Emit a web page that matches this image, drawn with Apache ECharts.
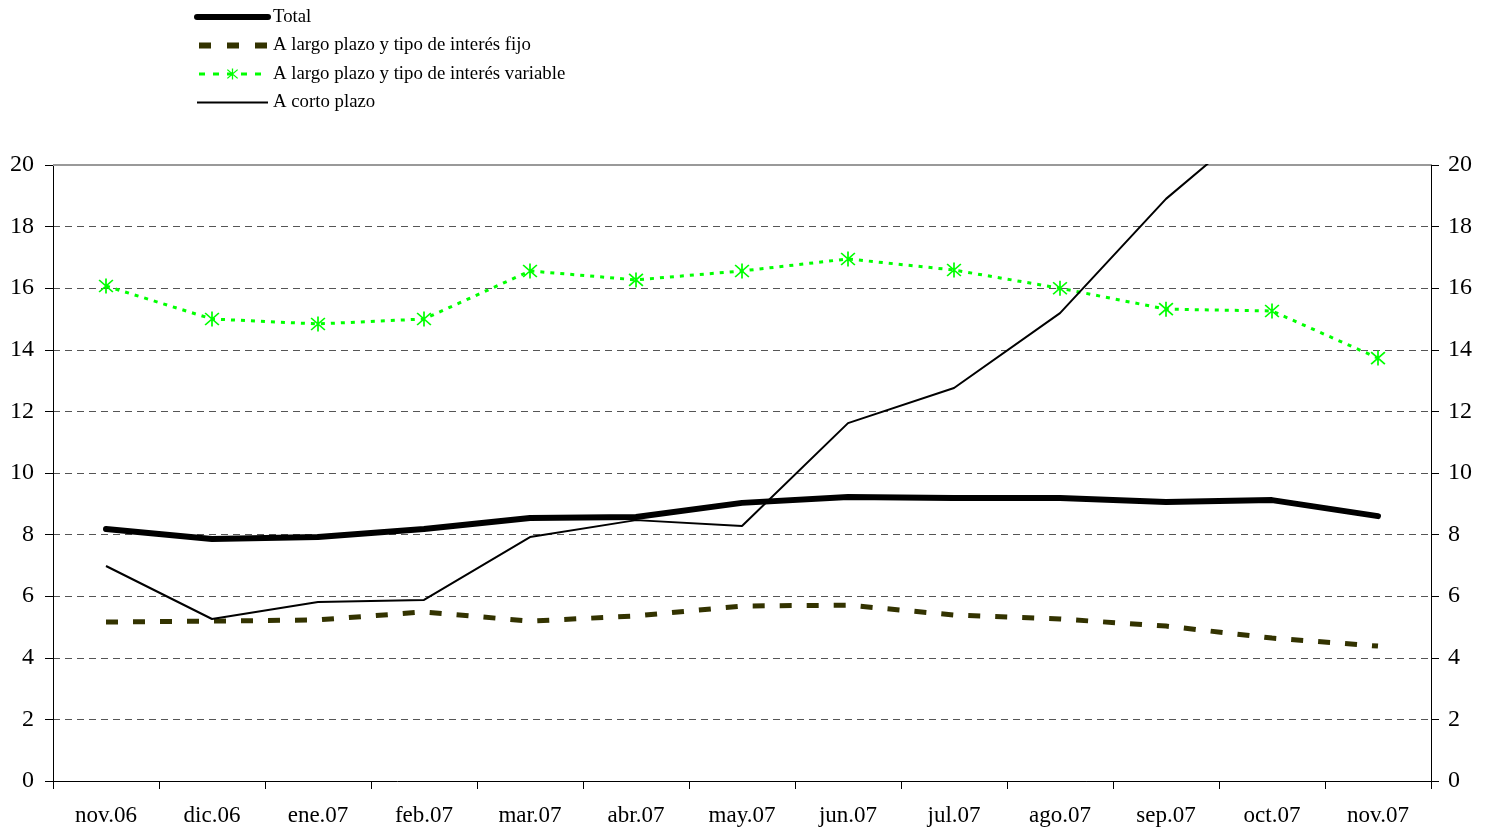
<!DOCTYPE html>
<html><head><meta charset="utf-8">
<script src="https://cdn.jsdelivr.net/npm/echarts@6/dist/echarts.min.js"></script>
<style>html,body{margin:0;padding:0;background:#fff}#c{width:1488px;height:834px}</style>
</head><body><div id="c"></div>
<script>
const categories = ['nov.06','dic.06','ene.07','feb.07','mar.07','abr.07','may.07','jun.07','jul.07','ago.07','sep.07','oct.07','nov.07'];
const total    = [8.18, 7.86, 7.92, 8.18, 8.54, 8.57, 9.03, 9.22, 9.19, 9.19, 9.06, 9.12, 8.60];
const fijo     = [5.16, 5.19, 5.23, 5.49, 5.19, 5.36, 5.68, 5.71, 5.39, 5.26, 5.03, 4.64, 4.38];
const variable = [16.07, 15.00, 14.84, 15.00, 16.56, 16.27, 16.56, 16.95, 16.59, 16.00, 15.32, 15.26, 13.73];
const corto    = [6.98, 5.26, 5.81, 5.88, 7.92, 8.47, 8.28, 11.62, 12.76, 15.19, 18.90, 21.80, 23.50];
const yTicks = [0, 2, 4, 6, 8, 10, 12, 14, 16, 18, 20];

const font = '"Liberation Serif","Times New Roman",serif';
const asterisk = 'path://M9 0 L11 0 L11 20 L9 20 Z M1.3 2.7 L2.7 1.3 L18.7 17.3 L17.3 18.7 Z M17.3 1.3 L18.7 2.7 L2.7 18.7 L1.3 17.3 Z';

const yAxisBase = (pos, margin) => ({
  type: 'value', position: pos, min: yTicks[0], max: yTicks[yTicks.length-1], interval: 2,
  axisLine: {show: true, lineStyle: {color: '#000', width: 1}},
  axisTick: {show: true, length: 8, inside: false, lineStyle: {color: '#000'}},
  axisLabel: {color: '#000', fontFamily: font, fontSize: 24, margin: margin},
});

const chart = echarts.init(document.getElementById('c'));
chart.setOption({
  animation: false,
  backgroundColor: '#fff',
  grid: {left: 53, right: 57, top: 165, bottom: 53, containLabel: false},
  legend: {
    orient: 'vertical', left: 189, top: 2, itemWidth: 71, itemHeight: 14, itemGap: 8.5,
    textStyle: {fontFamily: font, fontSize: 18.8, color: '#000', lineHeight: 20},
    data: [
      {name: 'Total', itemStyle: {opacity: 0}, lineStyle: {width: 6, color: '#000', cap: 'round'}},
      {name: 'A largo plazo y tipo de interés fijo', itemStyle: {opacity: 0}, lineStyle: {width: 6, color: '#333300', type: [12, 16], dashOffset: -2}},
      {name: 'A largo plazo y tipo de interés variable', lineStyle: {width: 3, color: '#00ff00', type: [6, 8]}},
      {name: 'A corto plazo', itemStyle: {opacity: 0}, lineStyle: {width: 2, color: '#000'}}
    ]
  },
  xAxis: {
    type: 'category', data: categories, boundaryGap: true,
    axisLine: {show: true, onZero: false, lineStyle: {color: '#000', width: 1}},
    axisTick: {show: true, length: 8, alignWithLabel: false, lineStyle: {color: '#000'}},
    axisLabel: {color: '#000', fontFamily: font, fontSize: 23, margin: 23, interval: 0},
    splitLine: {show: false}
  },
  yAxis: [
    Object.assign(yAxisBase('left', 19), {
      splitLine: {show: true, lineStyle: {color: '#555', type: [7, 5], width: 1}}
    }),
    Object.assign(yAxisBase('right', 17), {splitLine: {show: false}})
  ],
  series: [
    {
      name: 'Total', type: 'line', data: total, symbol: 'none', z: 5,
      lineStyle: {color: '#000', width: 6, cap: 'round', join: 'round'},
      itemStyle: {color: '#000'},
      markLine: {
        silent: true, symbol: 'none', label: {show: false},
        lineStyle: {color: '#999', type: 'solid', width: 2},
        data: [{yAxis: 20}]
      }
    },
    {
      name: 'A largo plazo y tipo de interés fijo', type: 'line', data: fijo, symbol: 'none', z: 3,
      lineStyle: {color: '#333300', width: 5, type: [12, 15]},
      itemStyle: {color: '#333300'}
    },
    {
      name: 'A largo plazo y tipo de interés variable', type: 'line', data: variable, z: 4,
      symbol: asterisk, symbolSize: 15, showAllSymbol: true,
      lineStyle: {color: '#00ff00', width: 3, type: [4, 6]},
      itemStyle: {color: '#00ff00', borderWidth: 0}
    },
    {
      name: 'A corto plazo', type: 'line', data: corto, symbol: 'none', z: 6, clip: true,
      lineStyle: {color: '#000', width: 2},
      itemStyle: {color: '#000'}
    }
  ]
});
</script>
</body></html>
